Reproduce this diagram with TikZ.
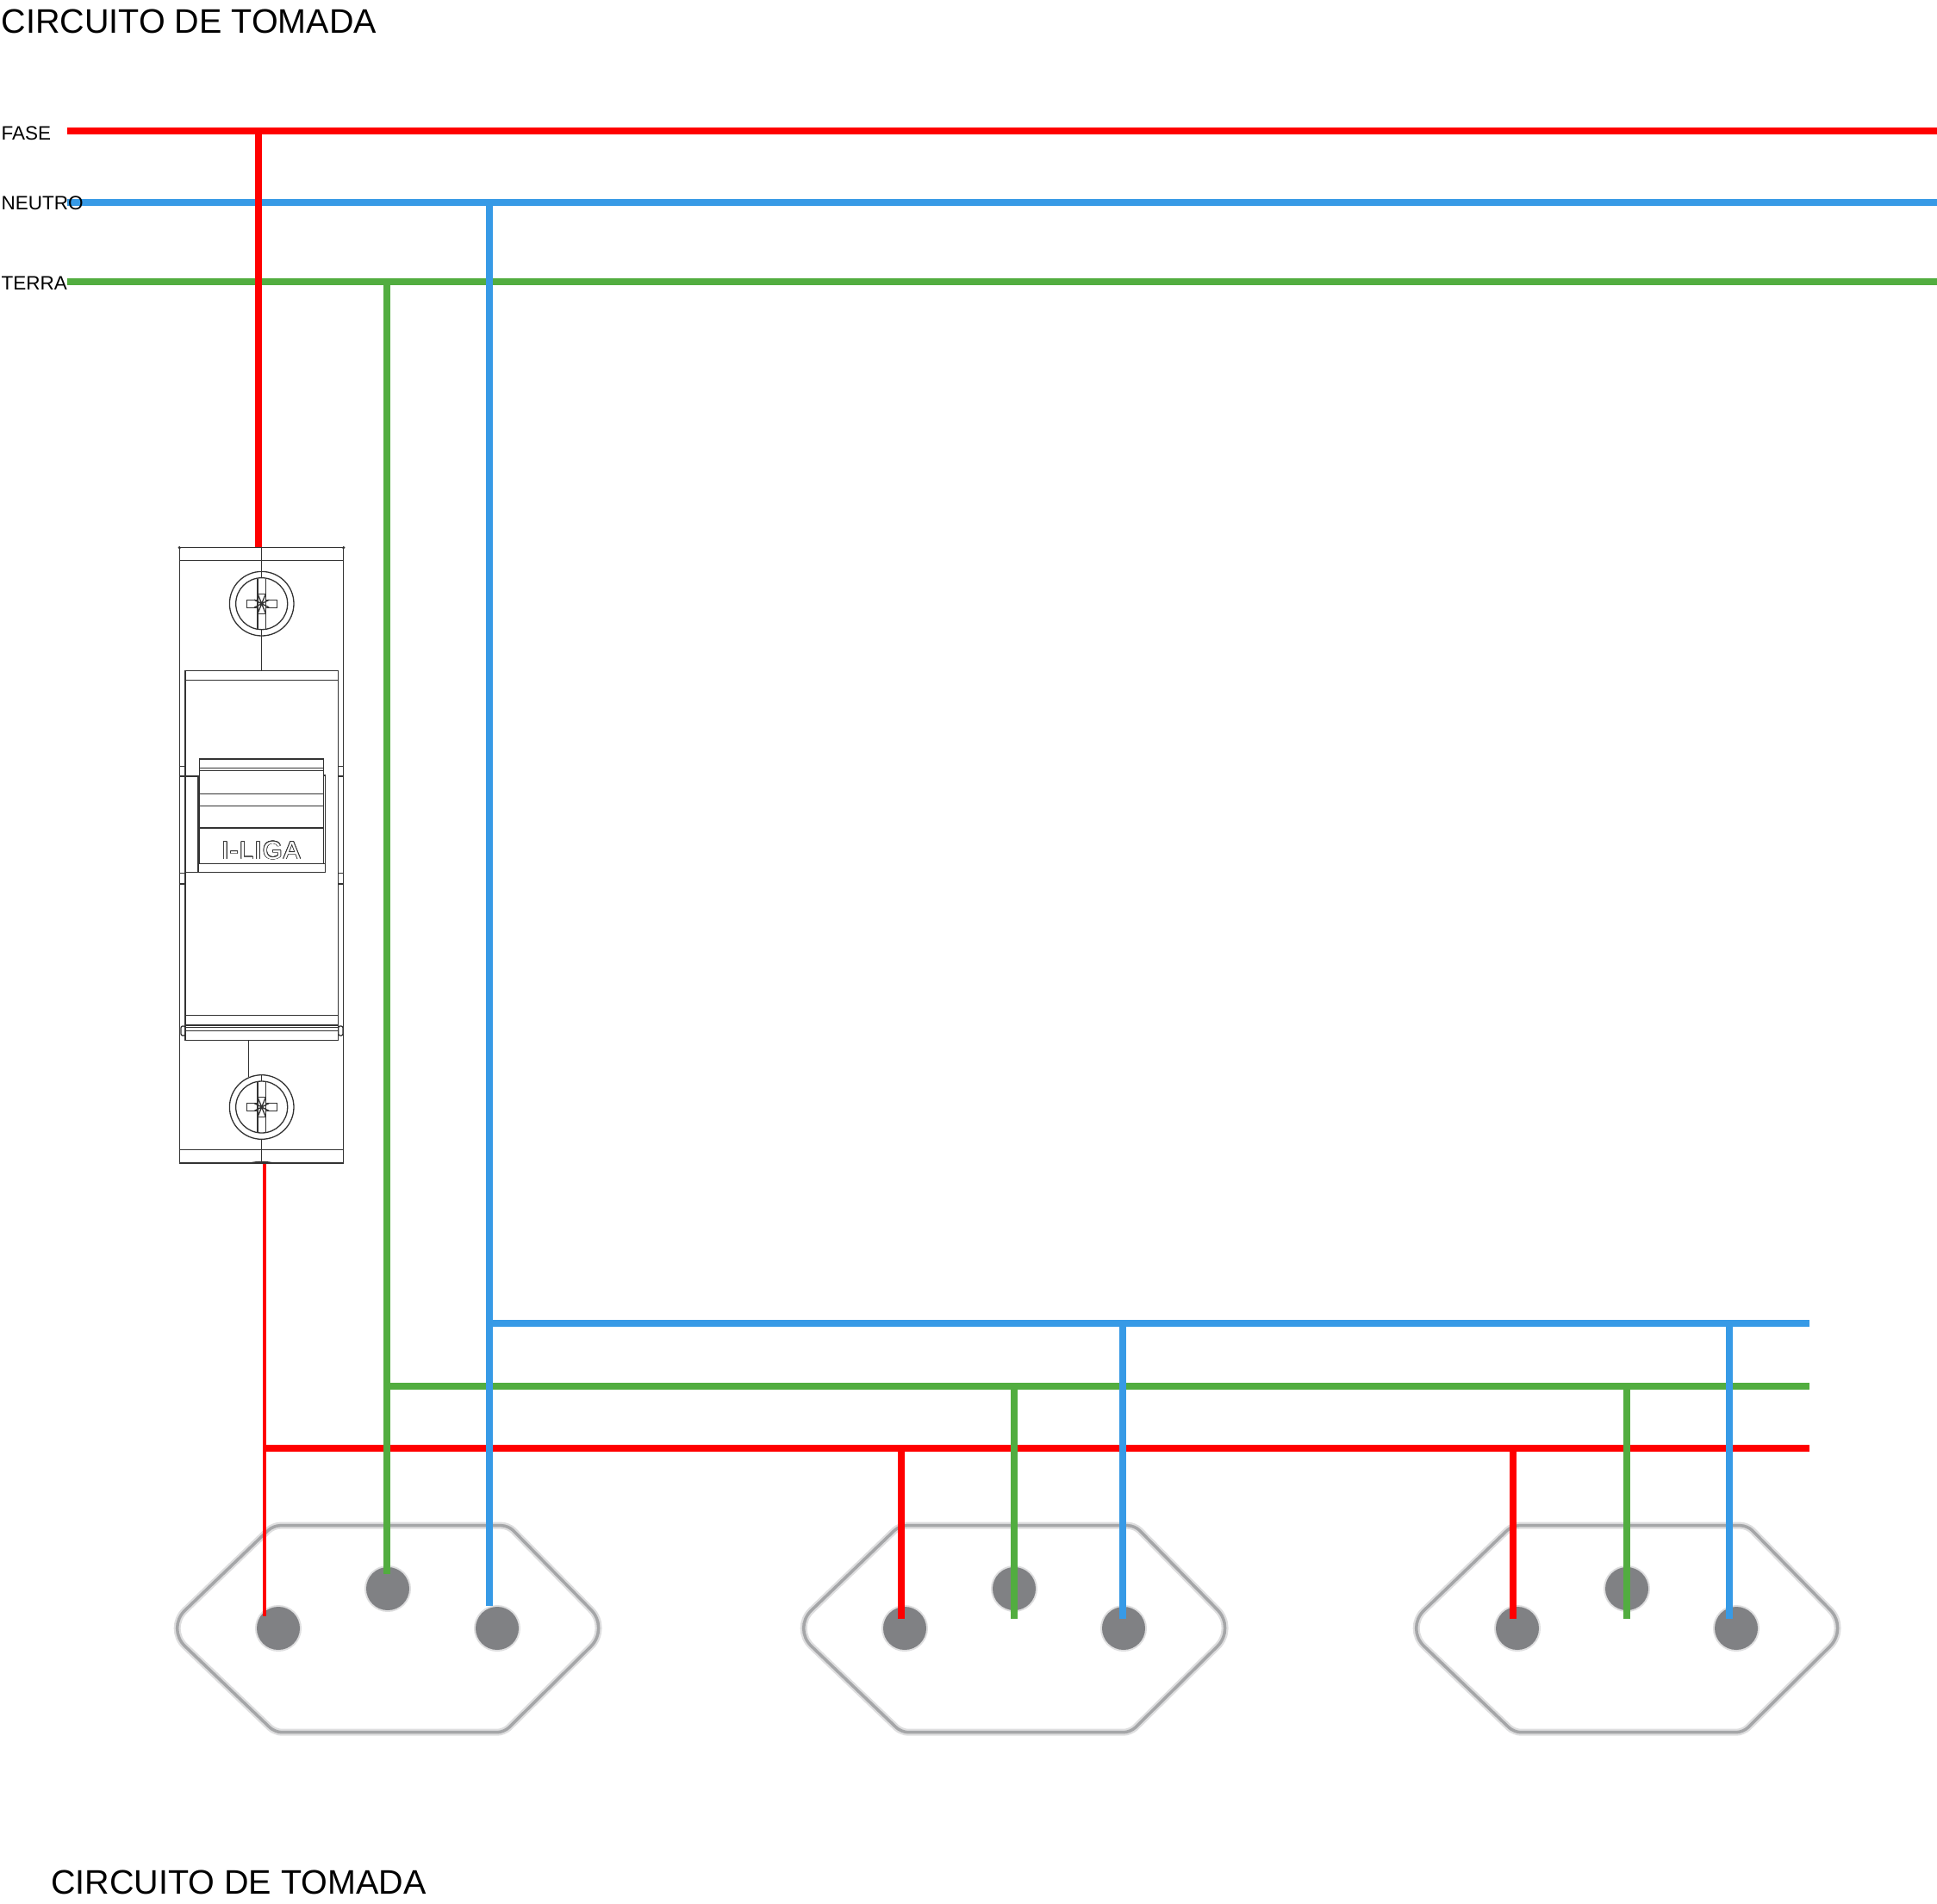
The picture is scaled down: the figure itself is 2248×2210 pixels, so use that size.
\documentclass[tikz,border=0pt]{standalone}
\usepackage{fontspec}
\usepackage{xcolor}
\usepackage[copies]{contour}
\setmainfont{Liberation Sans}
\definecolor{fasered}{HTML}{FF0000}
\definecolor{neutroblue}{HTML}{379AE6}
\definecolor{terragreen}{HTML}{52AD40}
\definecolor{socketgray}{HTML}{A5A6A8}
\definecolor{sockethalo}{HTML}{DEDEDF}
\definecolor{holegray}{HTML}{808184}
\definecolor{brkline}{HTML}{333333}
\contourlength{0.8pt}
\tikzset{
    fasewire/.style={draw=fasered, line width=8pt},
    neutrowire/.style={draw=neutroblue, line width=8pt},
    terrawire/.style={draw=terragreen, line width=8pt},
    thinwire/.style={draw=fasered, line width=4pt},
    socket/.style={draw=socketgray, line width=3.5pt,
        preaction={draw=sockethalo, line width=8pt}},
    hole/.style={fill=holegray, preaction={draw=sockethalo, line width=4pt}},
    brk/.style={draw=brkline, line width=1.3pt},
    titletext/.style={anchor=base west, inner sep=0pt, font=\fontsize{39.5}{46}\selectfont},
    wiretext/.style={anchor=base west, inner sep=0pt, font=\fontsize{22.5}{26}\selectfont}
}

\begin{document}
\begin{tikzpicture}[x=1pt, y=-1pt]
        \useasboundingbox (0, 0) rectangle (2248, 2210);

        \coordinate (faseA) at (78, 152);
        \coordinate (faseB) at (2248, 152);
        \coordinate (faseT) at (300, 152);
        \coordinate (brkIn) at (300, 635);
        \coordinate (neutroA) at (78, 235);
        \coordinate (neutroB) at (2248, 235);
        \coordinate (neutroT) at (568, 235);
        \coordinate (terraA) at (78, 327);
        \coordinate (terraB) at (2248, 327);
        \coordinate (terraT) at (449, 327);
        \coordinate (brkOut) at (306.7, 1350);
        \coordinate (redL) at (306.7, 1680.5);
        \coordinate (redR) at (2099.5, 1680.5);
        \coordinate (greenL) at (449, 1608.5);
        \coordinate (greenR) at (2099.5, 1608.5);
        \coordinate (blueL) at (568, 1536);
        \coordinate (blueR) at (2099.5, 1536);
        \coordinate (redS1) at (306.7, 1876);
        \coordinate (greenS1) at (449, 1827);
        \coordinate (blueS1) at (568, 1864);
        \coordinate (redJ2) at (1045.7, 1680.5);
        \coordinate (redS2) at (1045.7, 1879);
        \coordinate (greenJ2) at (1177, 1608.5);
        \coordinate (greenS2) at (1177, 1879);
        \coordinate (blueJ2) at (1303, 1536);
        \coordinate (blueS2) at (1303, 1879);
        \coordinate (redJ3) at (1756, 1680.5);
        \coordinate (redS3) at (1756, 1879);
        \coordinate (greenJ3) at (1888, 1608.5);
        \coordinate (greenS3) at (1888, 1879);
        \coordinate (blueJ3) at (2006.7, 1536);
        \coordinate (blueS3) at (2006.7, 1879);

        \draw[socket] (450, 1770.7) [rounded corners=8pt] -- (590, 1770.7) [rounded corners=30pt] -- (707, 1890) [rounded corners=8pt] -- (585, 2010.7) -- (319, 2010.7) [rounded corners=30pt] -- (193, 1890) [rounded corners=8pt] -- (317, 1770.7) -- cycle;
        \fill[hole] (323, 1890) circle (25);
        \fill[hole] (450, 1844) circle (25);
        \fill[hole] (577, 1890) circle (25);

        \draw[socket] (1177, 1770.7) [rounded corners=8pt] -- (1317, 1770.7) [rounded corners=30pt] -- (1434, 1890) [rounded corners=8pt] -- (1312, 2010.7) -- (1046, 2010.7) [rounded corners=30pt] -- (920, 1890) [rounded corners=8pt] -- (1044, 1770.7) -- cycle;
        \fill[hole] (1050, 1890) circle (25);
        \fill[hole] (1177, 1844) circle (25);
        \fill[hole] (1304, 1890) circle (25);

        \draw[socket] (1888, 1770.7) [rounded corners=8pt] -- (2028, 1770.7) [rounded corners=30pt] -- (2145, 1890) [rounded corners=8pt] -- (2023, 2010.7) -- (1757, 2010.7) [rounded corners=30pt] -- (1631, 1890) [rounded corners=8pt] -- (1755, 1770.7) -- cycle;
        \fill[hole] (1761, 1890) circle (25);
        \fill[hole] (1888, 1844) circle (25);
        \fill[hole] (2015, 1890) circle (25);

        \draw[terrawire] (terraA) -- (terraB);
        \draw[neutrowire] (neutroA) -- (neutroB);
        \draw[fasewire] (faseA) -- (faseB);

        \draw[fasewire] (redL) -- (redR);
        \draw[fasewire] (redJ2) -- (redS2);
        \draw[fasewire] (redJ3) -- (redS3);
        \draw[thinwire] (brkOut) -- (redS1);

        \draw[terrawire] (greenL) -- (greenR);
        \draw[terrawire] (terraT) -- (greenS1);
        \draw[terrawire] (greenJ2) -- (greenS2);
        \draw[terrawire] (greenJ3) -- (greenS3);

        \draw[neutrowire] (blueL) -- (blueR);
        \draw[neutrowire] (neutroT) -- (blueS1);
        \draw[neutrowire] (blueJ2) -- (blueS2);
        \draw[neutrowire] (blueJ3) -- (blueS3);

        \draw[fasewire] (faseT) -- (brkIn);

        \draw[brk] (208.3, 635.7) rectangle (398.7, 1350);
        \draw[brk] (208.3, 650.7) -- (398.7, 650.7)
            (208.3, 1334.3) -- (398.7, 1334.3);
        \fill[brkline] (208.3, 635.7) circle (1.8);
        \fill[brkline] (398.7, 635.7) circle (1.8);

        \draw[brk, fill=white] (215, 778.3) rectangle (392.7, 1207.3);
        \draw[brk] (215, 789.3) -- (392.7, 789.3)
            (215, 1178.3) -- (392.7, 1178.3)
            (215, 1190) -- (392.7, 1190)
            (215, 1192.3) -- (392.7, 1192.3)
            (215, 1196.7) -- (392.7, 1196.7);
        \draw[brk, rounded corners=2pt] (210, 1191) rectangle (215, 1202);
        \draw[brk, rounded corners=2pt] (392.7, 1191) rectangle (398, 1202);

        \draw[brk] (208.3, 889.3) -- (215, 889.3)
            (392.7, 889.3) -- (398.7, 889.3)
            (208.3, 901) -- (215, 901)
            (392.7, 901) -- (398.7, 901)
            (208.3, 1013.3) -- (215, 1013.3)
            (392.7, 1013.3) -- (398.7, 1013.3)
            (208.3, 1026) -- (215, 1026)
            (392.7, 1026) -- (398.7, 1026);

        \draw[brk, fill=white] (215, 901) rectangle (230, 1012.7);
        \draw[brk, fill=white] (231.7, 881) rectangle (375.3, 1002.3);
        \draw[brk] (230, 1002.3) rectangle (377.7, 1012.7);
        \draw[brk] (375.3, 900) -- (377.7, 900) -- (377.7, 1002.3);
        \draw[brk] (231.7, 891.7) -- (375.3, 891.7)
            (231.7, 894.3) -- (375.3, 894.3)
            (231.7, 921.7) -- (375.3, 921.7)
            (231.7, 935.7) -- (375.3, 935.7)
            (231.7, 961) -- (375.3, 961);
        \node[anchor=center, inner sep=0pt, font=\fontsize{29}{32}\selectfont\addfontfeature{LetterSpace=5}, text=white] (brkLabel) at (303, 987.5) {\contour{brkline}{I-LIGA}};

        \draw[brk] (303.7, 635.7) -- (303.7, 671)
            (303.7, 730.5) -- (303.7, 778.3);
        \draw[brk] (303.7, 700.7) circle (37.3);
        \draw[brk] (303.7, 700.7) circle (30);
        \draw[brk] (299, 671.5) -- (299, 730)
            (308.4, 671.5) -- (308.4, 730);
        \draw[brk, fill=white] (286.2, 696.2) rectangle (321.2, 705.2);
        \draw[brk, fill=white] (299, 689.2) rectangle (308.4, 712.2);
        \draw[brk] (299, 689.2) -- (308.4, 712.2)
            (308.4, 689.2) -- (299, 712.2)
            (295, 696.2) -- (312.4, 705.2)
            (295, 705.2) -- (312.4, 696.2);

        \draw[brk] (288.3, 1207.3) -- (288.3, 1250)
            (303.7, 1247.7) -- (303.7, 1255)
            (303.7, 1322) -- (303.7, 1348);
        \draw[brk] (290, 1350) .. controls (298, 1348) and (310, 1348) .. (317, 1350);
        \draw[brk] (303.7, 1285) circle (37.3);
        \draw[brk] (303.7, 1285) circle (30);
        \draw[brk] (299, 1255.8) -- (299, 1314.2)
            (308.4, 1255.8) -- (308.4, 1314.2);
        \draw[brk, fill=white] (286.2, 1280.5) rectangle (321.2, 1289.5);
        \draw[brk, fill=white] (299, 1273.5) rectangle (308.4, 1296.5);
        \draw[brk] (299, 1273.5) -- (308.4, 1296.5)
            (308.4, 1273.5) -- (299, 1296.5)
            (295, 1280.5) -- (312.4, 1289.5)
            (295, 1289.5) -- (312.4, 1280.5);

        \node[titletext] (titleTop) at (1.5, 39) {CIRCUITO DE TOMADA};
        \node[titletext] (titleBottom) at (59, 2198.5) {CIRCUITO DE TOMADA};
        \node[wiretext] (faseLabel) at (1.5, 163) {FASE};
        \node[wiretext] (neutroLabel) at (1.5, 243.5) {NEUTRO};
        \node[wiretext] (terraLabel) at (1.5, 336.5) {TERRA};
    \end{tikzpicture}
\end{document}
